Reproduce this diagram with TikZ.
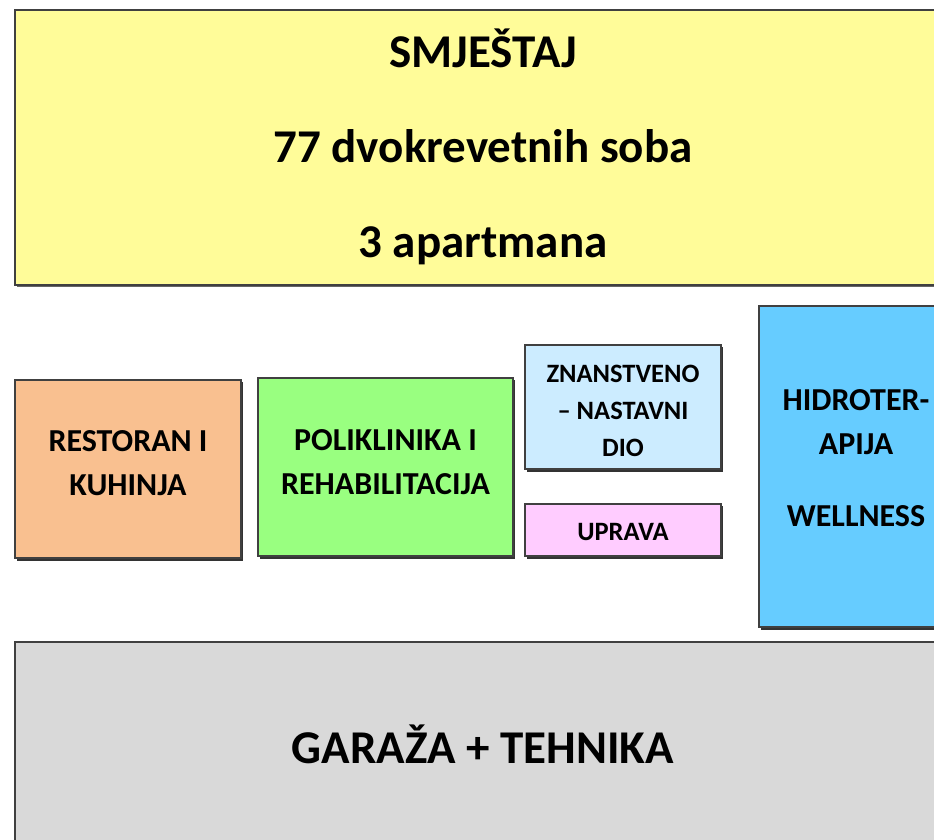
\documentclass[tikz,border=0pt]{standalone}
\usepackage{fontspec}
\setmainfont{Carlito}
\begin{document}
\begin{tikzpicture}[x=1pt,y=-1pt,
  box/.style={draw=black!75,line width=1.2pt,inner sep=0pt},
  big/.style={align=center,text=black,font=\bfseries\fontsize{47}{95}\selectfont},
  mid/.style={align=center,text=black,font=\bfseries\fontsize{32}{44}\selectfont},
  small/.style={align=center,text=black,font=\bfseries\fontsize{26.5}{37}\selectfont}]
\useasboundingbox (0,0) rectangle (934,840);
\clip (0,0) rectangle (934,840);
% shadows
\fill[black!60] (17,12) rectangle (960,287);
\fill[black!80] (17,382) rectangle (243,561);
\fill[black!80] (260,380) rectangle (515,559);
\fill[black!80] (527,347) rectangle (723,472);
\fill[black!80] (527,506) rectangle (723,559);
\fill[black!80] (761,308) rectangle (960,630);
\fill[black!60] (17,644) rectangle (960,870);
% boxes
\node[box,fill={rgb,255:red,255;green,252;blue,153},minimum width=936,minimum height=275,
  label={[big,yshift=1pt]center:SMJEŠTAJ\\77 dvokrevetnih soba\\3 apartmana}]
  (smj) at (483,147.5) {};
\node[box,fill={rgb,255:red,249;green,192;blue,144},minimum width=226,minimum height=178,
  label={[mid,yshift=6pt]center:RESTORAN I\\KUHINJA}]
  (rest) at (128,469) {};
\node[box,fill={rgb,255:red,153;green,255;blue,128},minimum width=255,minimum height=178,
  label={[mid,yshift=5pt]center:POLIKLINIKA I\\REHABILITACIJA}]
  (poli) at (385.5,467) {};
\node[box,fill={rgb,255:red,204;green,236;blue,255},minimum width=196,minimum height=124,
  label={[small,yshift=-3.5pt]center:ZNANSTVENO\\– NASTAVNI\\DIO}]
  (znan) at (623,407) {};
\node[box,fill={rgb,255:red,255;green,204;blue,255},minimum width=196,minimum height=52,
  label={[small,yshift=-2pt]center:UPRAVA}]
  (upr) at (623,530) {};
\node[box,fill={rgb,255:red,102;green,204;blue,255},minimum width=194,minimum height=321,
  label={[mid,yshift=8pt]center:HIDROTER-\\APIJA\\[28pt]WELLNESS}]
  (hidro) at (856,466.5) {};
\node[box,fill={rgb,255:red,217;green,217;blue,217},minimum width=936,minimum height=213,
  label={[big,yshift=4pt]center:GARAŽA + TEHNIKA}]
  (gar) at (483,748.5) {};
\end{tikzpicture}
\end{document}
